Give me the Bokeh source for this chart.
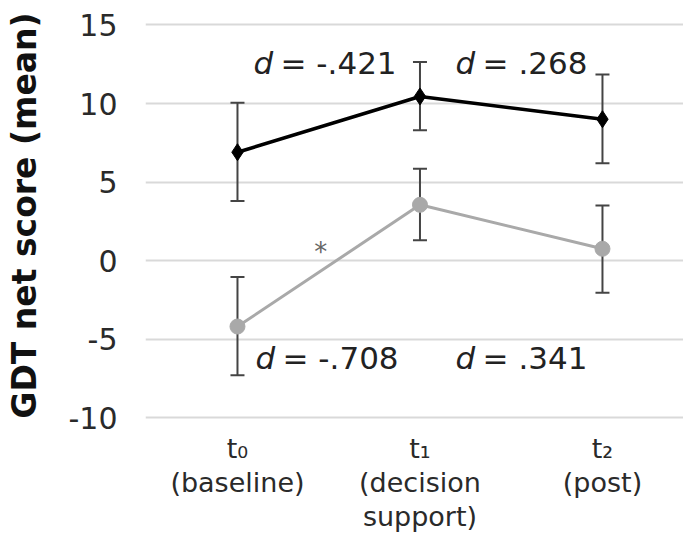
from bokeh.plotting import figure
from bokeh.models import FixedTicker, ColumnDataSource, Whisker, Range1d
from bokeh.core.properties import value
from bokeh.embed import file_html
from bokeh.resources import INLINE

# ---- data ----
x_labels = ["t₀\n(baseline)", "t₁\n(decision\nsupport)", "t₂\n(post)"]
x_pos = [0, 1, 2]
y_ticks = [-10, -5, 0, 5, 10, 15]
y_tick_labels = ["-10", "-5", "0", "5", "10", "15"]

black_mean = [6.9, 10.45, 9.0]
black_upper = [10.05, 12.65, 11.85]
black_lower = [3.8, 8.3, 6.2]

gray_mean = [-4.2, 3.55, 0.75]
gray_upper = [-1.05, 5.85, 3.5]
gray_lower = [-7.3, 1.3, -2.05]

d_top = ["-.421", ".268"]
d_bottom = ["-.708", ".341"]

FONT = "DejaVu Sans"

p = figure(width=683, height=534, output_backend="svg", toolbar_location=None,
           x_range=Range1d(-0.504, 2.444), y_range=Range1d(-10.82, 16.56),
           min_border_left=145, min_border_right=0, min_border_top=0,
           min_border_bottom=0)
p.outline_line_color = None
p.background_fill_color = "white"

# axes
p.xaxis.ticker = FixedTicker(ticks=x_pos)
p.xaxis.major_label_overrides = {i: lab for i, lab in zip(x_pos, x_labels)}
p.yaxis.ticker = FixedTicker(ticks=y_ticks)
p.yaxis.major_label_overrides = {t: lab for t, lab in zip(y_ticks, y_tick_labels)}
for ax in (p.xaxis, p.yaxis):
    ax.axis_line_color = None
    ax.major_tick_line_color = None
    ax.minor_tick_line_color = None
    ax.major_tick_out = 0
    ax.major_tick_in = 0
    ax.minor_tick_out = 0
    ax.major_label_text_font = FONT
    ax.major_label_text_color = "#2a2a2a"
p.xaxis.major_label_text_font_size = "27px"
p.xaxis.major_label_text_line_height = 1.1
p.yaxis.major_label_text_font_size = "30px"
p.xaxis.major_label_standoff = 2
p.yaxis.major_label_standoff = 28
p.yaxis.axis_label = "GDT net score (mean)"
p.yaxis.axis_label_text_font = FONT
p.yaxis.axis_label_text_font_style = "bold"
p.yaxis.axis_label_text_font_size = "33px"
p.yaxis.axis_label_text_color = "#111111"
p.yaxis.axis_label_standoff = 22

p.xgrid.grid_line_color = None
p.ygrid.grid_line_color = "#d9d9d9"
p.ygrid.grid_line_width = 2

# sources
src_b = ColumnDataSource(dict(x=x_pos, y=black_mean, up=black_upper, lo=black_lower))
src_g = ColumnDataSource(dict(x=x_pos, y=gray_mean, up=gray_upper, lo=gray_lower))

# error bars
for src in (src_b, src_g):
    w = Whisker(source=src, base="x", upper="up", lower="lo",
                line_color="#444444", line_width=2)
    for head in (w.upper_head, w.lower_head):
        head.size = 14
        head.line_color = "#444444"
        head.line_width = 2
    p.add_layout(w)

# lines + markers
p.line("x", "y", source=src_g, line_color="#a9a9a9", line_width=3)
p.scatter("x", "y", source=src_g, marker="circle", size=15,
          fill_color="#a9a9a9", line_color="#a9a9a9")
p.line("x", "y", source=src_b, line_color="#000000", line_width=3.5)
p.scatter("x", "y", source=src_b, marker="diamond", size=17,
          fill_color="#000000", line_color="#000000")

# effect-size annotations
ann_x_top = [0.088, 1.195]
ann_x_bot = [0.099, 1.195]
ann_y_top = [12.6, 12.6]
ann_y_bot = [-6.2, -6.2]
for xs, ys, labs in ((ann_x_top, ann_y_top, d_top), (ann_x_bot, ann_y_bot, d_bottom)):
    p.text(x=xs, y=ys, text=["d"] * len(xs), text_font=value(FONT),
           text_font_style="italic", text_font_size="31px", text_color="#222222",
           text_align="left", text_baseline="middle")
    p.text(x=xs, y=ys, text=[" = " + s for s in labs], text_font=value(FONT),
           text_font_size="31px", text_color="#222222", x_offset=27,
           text_align="left", text_baseline="middle")

# significance star
p.text(x=[0.456], y=[0.55], text=["*"], text_font=value(FONT), text_font_size="26px",
       text_color="#666666", text_align="center", text_baseline="middle")

open("out.html", "w").write(file_html(p, INLINE))
